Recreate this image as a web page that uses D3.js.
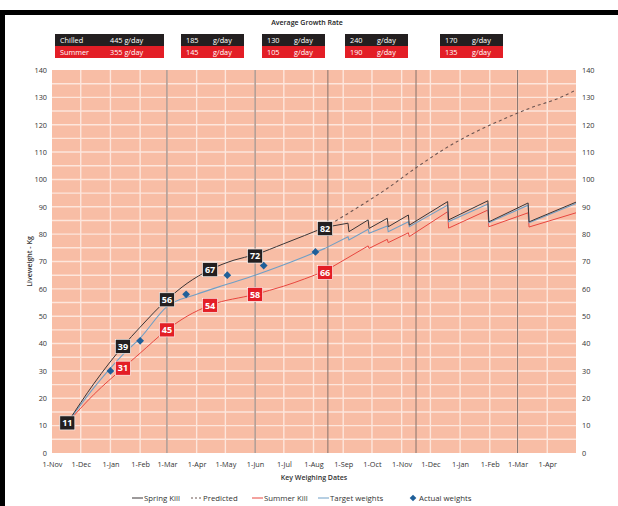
<!DOCTYPE html>
<html>
<head>
<meta charset="utf-8">
<script src="https://cdn.jsdelivr.net/npm/d3@7"></script>
<style>
  body { margin: 0; background: #fff; }
  svg { display: block; }
  text { font-family: "Open Sans", "Noto Sans", sans-serif; }
</style>
</head>
<body>
<div id="chart"></div>
<script>
// growth rate table (g/day)
var rateChilled = [445, 185, 130, 240, 170];
var rateSummer  = [355, 145, 105, 190, 135];

// liveweight series [date, kg]
var springKill = [
  ["2010-11-17", 11], ["2010-12-15", 25.5], ["2011-01-14", 39], ["2011-02-01", 46],
  ["2011-03-01", 56], ["2011-03-22", 62], ["2011-04-15", 67], ["2011-05-10", 70.5],
  ["2011-06-01", 72.5], ["2011-07-01", 76.5], ["2011-08-13", 82.5],
  ["2011-09-06", 84.0], ["2011-09-07", 80.9], ["2011-09-27", 85.2], ["2011-09-28", 82.1],
  ["2011-10-17", 85.8], ["2011-10-18", 82.7], ["2011-11-08", 87.0], ["2011-11-09", 83.3],
  ["2011-12-19", 91.9], ["2011-12-20", 85.2], ["2012-01-30", 92.2], ["2012-01-31", 84.5],
  ["2012-03-12", 91.4], ["2012-03-13", 84.5], ["2012-05-01", 91.7]
];
var predicted = [
  ["2011-08-13", 82.5], ["2011-09-15", 89.5], ["2011-10-14", 96], ["2011-11-17", 104.5],
  ["2011-12-15", 111], ["2012-01-15", 117], ["2012-02-15", 122], ["2012-03-15", 126.2],
  ["2012-04-15", 130], ["2012-05-01", 132.7]
];
var summerKill = [
  ["2010-11-17", 11], ["2010-12-15", 21.5], ["2011-01-14", 31], ["2011-02-01", 36.5],
  ["2011-03-01", 45], ["2011-03-22", 50], ["2011-04-15", 54], ["2011-06-01", 58],
  ["2011-07-01", 61], ["2011-08-13", 66.5],
  ["2011-09-27", 75.7], ["2011-09-28", 74.8], ["2011-10-17", 78.1], ["2011-10-18", 76.9],
  ["2011-11-08", 80.5], ["2011-11-09", 79.1], ["2011-12-19", 88.2], ["2011-12-20", 82.2],
  ["2012-01-30", 88.8], ["2012-01-31", 82.7], ["2012-03-12", 87.8], ["2012-03-13", 82.6],
  ["2012-05-01", 87.8]
];
var targetWeights = [
  ["2010-11-17", 11], ["2010-12-15", 24], ["2011-01-14", 36], ["2011-02-01", 42],
  ["2011-03-01", 53.5], ["2011-04-01", 58], ["2011-05-01", 61.5], ["2011-06-01", 65],
  ["2011-07-01", 68.8], ["2011-08-13", 74.8],
  ["2011-09-06", 79], ["2011-09-07", 77.9], ["2011-09-27", 81.8], ["2011-09-28", 80.3],
  ["2011-10-17", 83], ["2011-10-18", 80.9], ["2011-11-08", 84.5], ["2011-11-09", 82.7],
  ["2011-12-19", 90.6], ["2011-12-20", 84.6], ["2012-01-30", 91], ["2012-01-31", 84.2],
  ["2012-03-12", 90.6], ["2012-03-13", 84.2], ["2012-05-01", 91.2]
];
var actualWeights = [
  ["2011-01-01", 30], ["2011-02-01", 41], ["2011-03-21", 58],
  ["2011-05-03", 65], ["2011-06-10", 68.5], ["2011-08-03", 73.5]
];
// labelled weighings
var springLabels = [
  ["2010-11-17", 11], ["2011-01-14", 39], ["2011-03-01", 56],
  ["2011-04-15", 67], ["2011-06-01", 72], ["2011-08-13", 82]
];
var summerLabels = [
  ["2011-01-14", 31], ["2011-03-01", 45], ["2011-04-15", 54],
  ["2011-06-01", 58], ["2011-08-13", 66]
];
var markerDates = ["2011-03-01", "2011-06-01", "2011-08-16", "2011-11-16", "2012-03-01"];
var legendItems = ["Spring Kill", "Predicted", "Summer Kill", "Target weights", "Actual weights"];

var parse = d3.timeParse("%Y-%m-%d");
function prep(arr) { return arr.map(function(d){ return {date: parse(d[0]), v: d[1]}; }); }

var W = 618, H = 506;
var plotL = 52, plotR = 576, plotT = 70, plotB = 453;
var sawStart = parse("2011-08-13"); // after this weighing the kills start

var svg = d3.select("#chart").append("svg")
  .attr("width", W).attr("height", H);

// frame
svg.append("rect").attr("x", 0).attr("y", 10).attr("width", W).attr("height", 5).attr("fill", "#000");
svg.append("rect").attr("x", 0).attr("y", 10).attr("width", 5).attr("height", H - 10).attr("fill", "#000");

var x = d3.scaleTime()
  .domain([parse("2010-11-01"), parse("2012-05-01")])
  .range([plotL, plotR]);
var y = d3.scaleLinear().domain([0, 140]).range([plotB, plotT]);

// plot background
svg.append("rect")
  .attr("x", plotL).attr("y", plotT)
  .attr("width", plotR - plotL).attr("height", plotB - plotT)
  .attr("fill", "#f8bda5");

// grid
svg.append("g").selectAll("line")
  .data(d3.range(5, 140, 5))
  .enter().append("line")
  .attr("x1", plotL).attr("x2", plotR)
  .attr("y1", function(d){ return y(d); }).attr("y2", function(d){ return y(d); })
  .attr("stroke", "#fde6dc").attr("stroke-width", 1.4);

var months = d3.timeMonth.range(parse("2010-11-01"), parse("2012-05-01"));
svg.append("g").selectAll("line")
  .data(months.slice(1))
  .enter().append("line")
  .attr("x1", function(d){ return x(d); }).attr("x2", function(d){ return x(d); })
  .attr("y1", plotT).attr("y2", plotB)
  .attr("stroke", "#fde6dc").attr("stroke-width", 1.4);

svg.append("g").selectAll("line")
  .data(markerDates.map(parse))
  .enter().append("line")
  .attr("x1", function(d){ return x(d); }).attr("x2", function(d){ return x(d); })
  .attr("y1", plotT).attr("y2", plotB)
  .attr("stroke", "#86726c").attr("stroke-width", 1);

// axes
var fmt = d3.timeFormat("%-d-%b");
var xAxis = svg.append("g")
  .attr("transform", "translate(0," + plotB + ")")
  .call(d3.axisBottom(x).tickValues(months).tickFormat(fmt).tickSize(0).tickPadding(9));
var yLeft = svg.append("g")
  .attr("transform", "translate(" + (plotL - 5) + ",0)")
  .call(d3.axisLeft(y).tickValues(d3.range(0, 141, 10)).tickSize(0).tickPadding(0));
var yRight = svg.append("g")
  .attr("transform", "translate(" + (plotR + 6) + ",0)")
  .call(d3.axisRight(y).tickValues(d3.range(0, 141, 10)).tickSize(0).tickPadding(0));
[xAxis, yLeft, yRight].forEach(function(a){
  a.select(".domain").remove();
  a.selectAll("text").attr("font-size", 7.3).attr("fill", "#333")
    .attr("font-family", "'Open Sans', sans-serif");
});

svg.append("text")
  .attr("transform", "translate(32," + ((plotT + plotB) / 2) + ") rotate(-90)")
  .attr("text-anchor", "middle")
  .attr("font-size", 7).attr("font-weight", 600).attr("fill", "#333")
  .text("Liveweight - Kg");

svg.append("text")
  .attr("x", (plotL + plotR) / 2).attr("y", 480)
  .attr("text-anchor", "middle")
  .attr("font-size", 7).attr("font-weight", 600).attr("fill", "#333")
  .text("Key Weighing Dates");

// lines: smooth growth up to the first kill, straight sawtooth after it
var smooth = d3.line()
  .x(function(d){ return x(d.date); })
  .y(function(d){ return y(d.v); })
  .curve(d3.curveMonotoneX);
var straight = d3.line()
  .x(function(d){ return x(d.date); })
  .y(function(d){ return y(d.v); });

function series(arr, color, width, dash) {
  var pts = prep(arr);
  var parts = [
    [pts.filter(function(d){ return d.date <= sawStart; }), smooth],
    [pts.filter(function(d){ return d.date >= sawStart; }), straight]
  ];
  parts.forEach(function(p){
    if (p[0].length < 2) return;
    svg.append("path").datum(p[0])
      .attr("d", p[1]).attr("fill", "none")
      .attr("stroke", color).attr("stroke-width", width)
      .attr("stroke-linejoin", "miter")
      .attr("stroke-dasharray", dash || null);
  });
}
series(summerKill, "#e8463f", 1);
series(targetWeights, "#6f9fc6", 1.1);
svg.append("path").datum(prep(predicted))
  .attr("d", smooth).attr("fill", "none")
  .attr("stroke", "#6b5450").attr("stroke-width", 1.1)
  .attr("stroke-dasharray", "3,3");
series(springKill, "#3b3536", 1);

// actual weights diamonds
svg.append("g").selectAll("path")
  .data(prep(actualWeights))
  .enter().append("path")
  .attr("d", d3.symbol().type(d3.symbolSquare).size(30))
  .attr("transform", function(d){ return "translate(" + x(d.date) + "," + y(d.v) + ") rotate(45)"; })
  .attr("fill", "#1f5f99");

// value boxes
function boxes(data, color) {
  var g = svg.append("g").selectAll("g")
    .data(prep(data))
    .enter().append("g")
    .attr("transform", function(d){ return "translate(" + x(d.date) + "," + y(d.v) + ")"; });
  g.append("rect")
    .attr("x", -7.5).attr("y", -7).attr("width", 15).attr("height", 14)
    .attr("fill", color).attr("stroke", "#fff").attr("stroke-width", 0.6);
  g.append("text")
    .attr("text-anchor", "middle").attr("dy", "0.36em")
    .attr("font-size", 9).attr("font-weight", 700).attr("fill", "#fff")
    .text(function(d){ return d.v; });
}
boxes(summerLabels, "#e31e26");
boxes(springLabels, "#231f20");

// growth rate table
svg.append("text")
  .attr("x", 307).attr("y", 25)
  .attr("text-anchor", "middle")
  .attr("font-size", 7).attr("font-weight", 600).attr("fill", "#222")
  .text("Average Growth Rate");

var boxX = [55, 181, 262, 345, 440];
var tbl = svg.append("g").selectAll("g")
  .data(rateChilled)
  .enter().append("g")
  .attr("transform", function(d, i){ return "translate(" + boxX[i] + ",34)"; });
tbl.append("rect")
  .attr("width", function(d, i){ return i === 0 ? 109 : 63; }).attr("height", 12)
  .attr("fill", "#231f20");
tbl.append("rect")
  .attr("y", 12)
  .attr("width", function(d, i){ return i === 0 ? 109 : 63; }).attr("height", 12)
  .attr("fill", "#e31e26");
tbl.append("text")
  .attr("x", 5).attr("y", 9)
  .attr("font-size", 7.3).attr("fill", "#fff")
  .text(function(d, i){ return i === 0 ? "Chilled" : d; });
tbl.append("text")
  .attr("x", function(d, i){ return i === 0 ? 55 : 32; }).attr("y", 9)
  .attr("font-size", 7.3).attr("fill", "#fff")
  .text(function(d, i){ return i === 0 ? d + " g/day" : "g/day"; });
tbl.append("text")
  .attr("x", 5).attr("y", 21)
  .attr("font-size", 7.3).attr("fill", "#fff")
  .text(function(d, i){ return i === 0 ? "Summer" : rateSummer[i]; });
tbl.append("text")
  .attr("x", function(d, i){ return i === 0 ? 55 : 32; }).attr("y", 21)
  .attr("font-size", 7.3).attr("fill", "#fff")
  .text(function(d, i){ return i === 0 ? rateSummer[i] + " g/day" : "g/day"; });

// legend
var legX = [132, 191, 252, 318, 409];
var legColor = ["#3b3536", "#6b5450", "#e8463f", "#6f9fc6", "#1f5f99"];
var leg = svg.append("g").selectAll("g")
  .data(legendItems)
  .enter().append("g")
  .attr("transform", function(d, i){ return "translate(" + legX[i] + ",498)"; });
leg.each(function(d, i){
  var g = d3.select(this);
  if (i === 4) {
    g.append("path")
      .attr("d", d3.symbol().type(d3.symbolSquare).size(22))
      .attr("transform", "translate(4,0) rotate(45)")
      .attr("fill", legColor[i]);
  } else {
    g.append("line")
      .attr("x1", 0).attr("x2", 11).attr("y1", 0).attr("y2", 0)
      .attr("stroke", legColor[i]).attr("stroke-width", 1)
      .attr("stroke-dasharray", i === 1 ? "2,2" : null);
  }
  g.append("text")
    .attr("x", i === 4 ? 10 : 12).attr("dy", "0.35em")
    .attr("font-size", 7.8).attr("fill", "#333")
    .text(d);
});
</script>
</body>
</html>
